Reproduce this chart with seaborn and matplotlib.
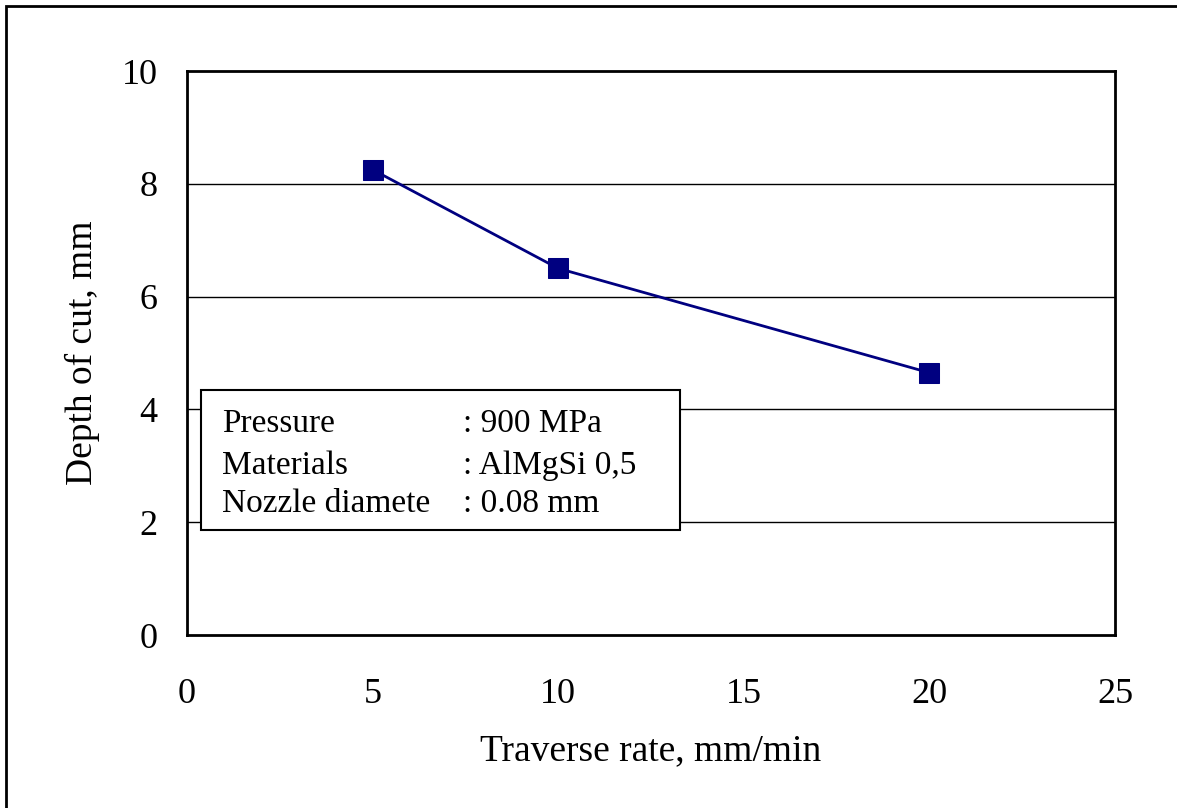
import matplotlib
matplotlib.use("Agg")
import matplotlib.pyplot as plt
import seaborn as sns
import pandas as pd
from matplotlib.patches import Rectangle

# data
traverse_rate = [5, 10, 20]
depth_of_cut = [8.25, 6.5, 4.65]
x_ticks = [0, 5, 10, 15, 20, 25]
y_ticks = [0, 2, 4, 6, 8, 10]
info_labels = ["Pressure", "Materials", "Nozzle diamete"]
info_values = [": 900 MPa", ": AlMgSi 0,5", ": 0.08 mm"]

df = pd.DataFrame({"rate": traverse_rate, "depth": depth_of_cut})

sns.set_theme(style="white")
plt.rcParams["font.family"] = ["Liberation Serif", "DejaVu Serif"]
plt.rcParams["text.color"] = "black"
plt.rcParams["axes.labelcolor"] = "black"

fig = plt.figure(figsize=(11.77, 8.08), dpi=100)
ax = fig.add_axes([187 / 1177, 1 - 635 / 808, 928 / 1177, 564 / 808])

# outer chart border (only left/top visible in the original)
fig.patches.append(Rectangle((6 / 1177, -0.05), 1.2, 1 - 6 / 808 + 0.05,
                             transform=fig.transFigure, fill=False,
                             edgecolor="black", linewidth=2, zorder=10))

for y in [2, 4, 6, 8]:
    ax.axhline(y, color="black", linewidth=1, zorder=1)

sns.lineplot(data=df, x="rate", y="depth", ax=ax, color="#000080",
             linewidth=2, marker="s", markersize=15, markeredgecolor="#000080",
             zorder=3)

ax.set_xlim(0, 25)
ax.set_ylim(0, 10)
ax.set_xticks(x_ticks)
ax.set_yticks(y_ticks)
ax.tick_params(axis="both", length=0, labelsize=26, colors="black")
ax.tick_params(axis="x", pad=31)
ax.tick_params(axis="y", pad=21)
ax.set_xlabel("Traverse rate, mm/min", fontsize=27, labelpad=16, color="black")
ax.set_ylabel("Depth of cut, mm", fontsize=27, labelpad=16, color="black")
for s in ax.spines.values():
    s.set_color("black")
    s.set_linewidth(2)

# info box
box = Rectangle((0.0151, 0.186), 0.516, 0.248, transform=ax.transAxes,
                facecolor="white", edgecolor="black", linewidth=1.5, zorder=4)
ax.add_patch(box)
row_y = [0.374, 0.3, 0.232]
for lab, val, yy in zip(info_labels, info_values, row_y):
    ax.text(0.038, yy, lab, transform=ax.transAxes, fontsize=24,
            va="center", ha="left", zorder=5, color="black")
    ax.text(0.297, yy, val, transform=ax.transAxes, fontsize=24,
            va="center", ha="left", zorder=5, color="black")

fig.savefig("out.png", dpi=100, facecolor="white")
